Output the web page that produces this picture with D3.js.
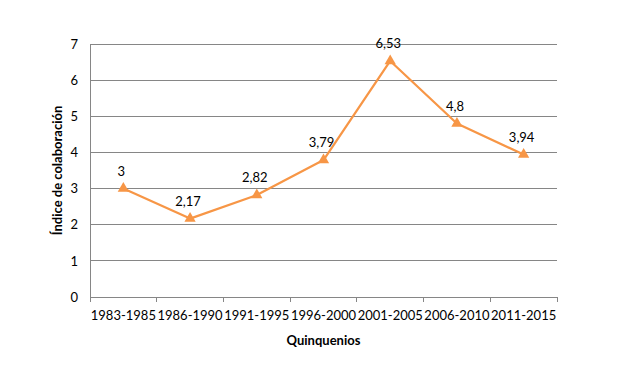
<!DOCTYPE html>
<html>
<head>
<meta charset="utf-8">
<script src="https://cdn.jsdelivr.net/npm/d3@7"></script>
<style>
  body { margin: 0; background: #fff; }
  svg { display: block; font-family: Lato, "Open Sans", sans-serif; }
</style>
</head>
<body>
<svg id="chart" width="644" height="388"></svg>
<script>
  const categories = ['1983-1985', '1986-1990', '1991-1995', '1996-2000', '2001-2005', '2006-2010', '2011-2015'];
  const values = [3, 2.17, 2.82, 3.79, 6.53, 4.8, 3.94];
  const yTicks = [0, 1, 2, 3, 4, 5, 6, 7];

  const svg = d3.select('#chart');
  const m = { top: 44, right: 87, bottom: 91, left: 90 };
  const W = 644, H = 388;

  const x = d3.scaleBand().domain(categories).range([m.left, W - m.right]);
  const y = d3.scaleLinear().domain([0, 7]).range([H - m.bottom, m.top]);

  // gridlines
  svg.append('g')
    .selectAll('line')
    .data(yTicks.slice(1))
    .join('line')
    .attr('x1', m.left).attr('x2', W - m.right)
    .attr('y1', d => y(d)).attr('y2', d => y(d))
    .attr('stroke', '#868686').attr('stroke-width', 1)
    .attr('shape-rendering', 'crispEdges');

  // y axis
  const yAxis = svg.append('g')
    .attr('transform', `translate(${m.left},0)`)
    .call(d3.axisLeft(y).tickValues(yTicks).tickFormat(d3.format('d')).tickSize(0).tickPadding(12));
  yAxis.select('.domain').attr('stroke', '#868686').attr('shape-rendering', 'crispEdges');
  yAxis.selectAll('text').attr('font-size', 13).attr('fill', '#000')
    .style('font-family', 'Lato, sans-serif');

  // x axis
  const xAxis = svg.append('g')
    .attr('transform', `translate(0,${y(0)})`)
    .call(d3.axisBottom(x).tickSize(0).tickPadding(14));
  xAxis.select('.domain').attr('stroke', '#868686').attr('shape-rendering', 'crispEdges');
  xAxis.selectAll('text').attr('font-size', 13).attr('fill', '#000')
    .style('font-family', 'Lato, sans-serif');

  // category boundary ticks
  const bounds = categories.map(c => x(c)).concat([x.range()[1]]);
  svg.append('g')
    .selectAll('line')
    .data(bounds)
    .join('line')
    .attr('x1', d => d).attr('x2', d => d)
    .attr('y1', y(0)).attr('y2', y(0) + 5)
    .attr('stroke', '#868686')
    .attr('shape-rendering', 'crispEdges');

  const cx = d => x(d) + x.bandwidth() / 2;

  // line
  const line = d3.line()
    .x((d, i) => cx(categories[i]))
    .y(d => y(d));
  svg.append('path')
    .datum(values)
    .attr('d', line)
    .attr('fill', 'none')
    .attr('stroke', '#F79646')
    .attr('stroke-width', 2.25)
    .attr('stroke-linejoin', 'round');

  // triangle markers
  const tri = d3.symbol().type(d3.symbolTriangle).size(55);
  svg.append('g')
    .selectAll('path')
    .data(values)
    .join('path')
    .attr('d', tri)
    .attr('transform', (d, i) => `translate(${cx(categories[i])},${y(d)})`)
    .attr('fill', '#F79646');

  // value labels
  svg.append('g')
    .selectAll('text')
    .data(values)
    .join('text')
    .attr('x', (d, i) => cx(categories[i]) - 2)
    .attr('y', d => y(d) - 13)
    .attr('text-anchor', 'middle')
    .attr('font-size', 13)
    .attr('fill', '#000')
    .text(d => String(d).replace('.', ','));

  // axis titles
  svg.append('text')
    .attr('x', (m.left + W - m.right) / 2)
    .attr('y', 345)
    .attr('text-anchor', 'middle')
    .attr('font-size', 13)
    .attr('font-weight', 'bold')
    .text('Quinquenios');

  svg.append('text')
    .attr('transform', `translate(62,${(m.top + H - m.bottom) / 2}) rotate(-90)`)
    .attr('text-anchor', 'middle')
    .attr('font-size', 13)
    .attr('font-weight', 'bold')
    .text('Índice de colaboración');
</script>
</body>
</html>
